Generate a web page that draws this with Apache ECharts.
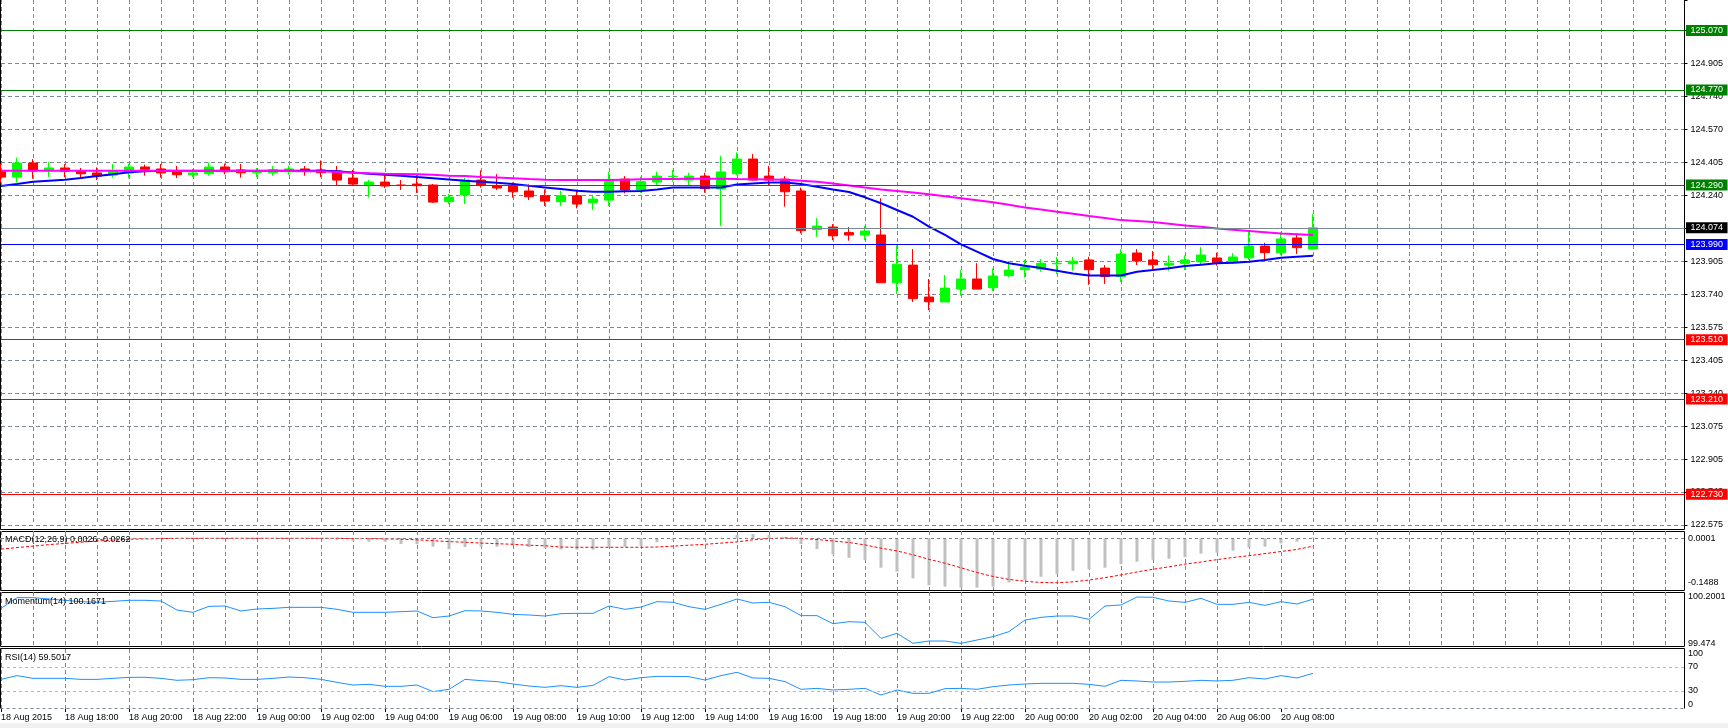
<!DOCTYPE html>
<html><head><meta charset="utf-8">
<script src="https://cdn.jsdelivr.net/npm/echarts@6/dist/echarts.min.js"></script>
<style>html,body{margin:0;padding:0;background:#fff;}#c{width:1728px;height:728px;}</style>
</head><body><div id="c"></div>
<script>
// ---- data (30-minute candles, 18 Aug 2015 16:00 .. 20 Aug 2015 09:00) ----
const opens = [124.357,124.330,124.401,124.361,124.376,124.359,124.351,124.340,124.351,124.381,
124.371,124.361,124.342,124.347,124.381,124.366,124.352,124.352,124.357,124.371,
124.366,124.361,124.325,124.290,124.305,124.290,124.295,124.290,124.206,124.240,
124.315,124.288,124.288,124.260,124.236,124.206,124.236,124.201,124.214,124.320,
124.265,124.305,124.332,124.315,124.335,124.270,124.347,124.421,124.335,124.320,
124.260,124.065,124.078,124.050,124.038,124.038,123.797,123.886,123.725,123.700,
123.765,123.816,123.772,123.833,123.863,123.866,123.893,123.893,123.912,123.871,
123.828,123.947,123.912,123.886,123.895,123.903,123.922,123.898,123.923,123.982,
123.949,124.023,123.967];
const closes = [124.330,124.401,124.361,124.376,124.359,124.347,124.335,124.359,124.381,124.369,
124.351,124.342,124.351,124.381,124.357,124.352,124.355,124.367,124.371,124.361,
124.352,124.315,124.295,124.305,124.285,124.288,124.287,124.204,124.229,124.315,
124.288,124.275,124.256,124.231,124.209,124.236,124.194,124.219,124.315,124.265,
124.307,124.335,124.334,124.335,124.272,124.356,124.421,124.315,124.315,124.256,
124.060,124.083,124.034,124.038,124.058,123.797,123.891,123.717,123.701,123.770,
123.816,123.765,123.831,123.861,123.876,123.895,123.895,123.906,123.863,123.828,
123.942,123.907,123.888,123.896,123.912,123.937,123.897,123.927,123.982,123.949,
124.018,123.974,124.074];
const lows = [124.302,124.302,124.322,124.330,124.329,124.324,124.315,124.327,124.324,124.337,
124.327,124.325,124.330,124.337,124.344,124.327,124.330,124.337,124.342,124.337,
124.330,124.290,124.290,124.226,124.275,124.265,124.250,124.200,124.194,124.194,
124.277,124.265,124.226,124.214,124.184,124.184,124.172,124.164,124.184,124.248,
124.251,124.288,124.307,124.288,124.251,124.083,124.340,124.312,124.290,124.181,
124.046,124.029,124.012,124.009,124.012,123.797,123.740,123.700,123.659,123.700,
123.732,123.765,123.755,123.826,123.823,123.853,123.841,123.858,123.787,123.791,
123.801,123.886,123.861,123.858,123.861,123.886,123.883,123.893,123.912,123.912,
123.937,123.942,123.967];
const highs = [124.398,124.428,124.421,124.406,124.396,124.376,124.379,124.396,124.396,124.393,
124.396,124.386,124.371,124.404,124.398,124.396,124.376,124.386,124.388,124.386,
124.414,124.386,124.366,124.315,124.344,124.315,124.342,124.295,124.245,124.327,
124.364,124.345,124.303,124.293,124.268,124.261,124.263,124.236,124.356,124.335,
124.332,124.357,124.366,124.352,124.352,124.436,124.455,124.446,124.386,124.335,
124.277,124.123,124.093,124.078,124.083,124.223,123.986,123.967,123.816,123.836,
123.861,123.896,123.869,123.907,123.912,123.917,123.928,123.928,123.928,123.886,
123.967,123.967,123.957,123.935,123.935,123.977,123.949,123.947,124.058,123.999,
124.051,124.046,124.144];
const maFast = [124.285,124.295,124.307,124.312,124.317,124.325,124.335,124.344,124.354,124.359,
124.362,124.362,124.362,124.362,124.362,124.362,124.362,124.362,124.362,124.362,
124.362,124.359,124.353,124.347,124.342,124.337,124.330,124.324,124.318,124.312,
124.307,124.301,124.295,124.286,124.278,124.270,124.261,124.256,124.256,124.258,
124.260,124.268,124.277,124.278,124.278,124.278,124.293,124.298,124.303,124.303,
124.295,124.281,124.267,124.255,124.228,124.198,124.164,124.130,124.080,124.038,
123.991,123.954,123.917,123.895,123.883,123.871,123.858,123.844,123.834,123.833,
123.834,123.853,123.861,123.870,123.881,123.888,123.895,123.898,123.903,123.912,
123.923,123.928,123.933];
const maSlow = [124.362,124.362,124.362,124.362,124.362,124.362,124.362,124.362,124.362,124.362,
124.362,124.361,124.361,124.361,124.361,124.361,124.361,124.361,124.361,124.360,
124.359,124.356,124.352,124.350,124.347,124.346,124.344,124.342,124.337,124.335,
124.331,124.328,124.324,124.320,124.317,124.315,124.315,124.315,124.315,124.317,
124.319,124.320,124.321,124.322,124.322,124.322,124.320,124.319,124.318,124.317,
124.312,124.306,124.298,124.288,124.277,124.268,124.260,124.252,124.243,124.233,
124.223,124.213,124.203,124.190,124.177,124.166,124.155,124.145,124.134,124.124,
124.113,124.108,124.103,124.095,124.086,124.079,124.071,124.064,124.058,124.052,
124.046,124.042,124.038];
const macdMain = [-0.004,-0.002,0.000,0.001,0.001,0.001,0.000,0.001,0.002,0.002,
0.002,0.001,0.000,0.001,0.001,0.000,0.000,0.000,0.001,0.001,
0.000,-0.004,-0.008,-0.011,-0.011,-0.019,-0.020,-0.028,-0.036,-0.029,
-0.028,-0.028,-0.024,-0.029,-0.033,-0.037,-0.038,-0.038,-0.028,-0.028,
-0.026,-0.013,-0.007,-0.004,-0.006,0.002,0.011,0.014,0.011,0.004,
-0.019,-0.036,-0.053,-0.065,-0.072,-0.098,-0.111,-0.133,-0.156,-0.161,
-0.164,-0.164,-0.161,-0.147,-0.139,-0.128,-0.119,-0.108,-0.102,-0.098,
-0.086,-0.078,-0.071,-0.068,-0.062,-0.051,-0.048,-0.041,-0.031,-0.028,
-0.017,-0.011,0.0026];
const macdSignal = [-0.036,-0.031,-0.026,-0.021,-0.017,-0.013,-0.009,-0.006,-0.003,-0.002,
-0.001,0.000,0.000,0.000,0.000,0.000,0.000,0.000,0.000,0.000,
0.000,0.000,-0.001,-0.001,-0.002,-0.003,-0.005,-0.008,-0.011,-0.013,
-0.016,-0.018,-0.020,-0.023,-0.025,-0.029,-0.030,-0.030,-0.030,-0.030,
-0.030,-0.029,-0.026,-0.023,-0.020,-0.016,-0.012,-0.005,-0.001,0.001,
0.000,-0.004,-0.009,-0.014,-0.022,-0.033,-0.042,-0.055,-0.070,-0.083,
-0.098,-0.114,-0.127,-0.137,-0.143,-0.147,-0.148,-0.145,-0.139,-0.131,
-0.122,-0.112,-0.103,-0.095,-0.086,-0.079,-0.071,-0.064,-0.058,-0.051,
-0.044,-0.037,-0.0262];
const momentum = [100.023,100.190,100.190,100.169,100.148,100.127,100.117,100.132,100.148,100.148,
100.137,99.996,99.960,100.054,100.059,99.981,100.012,100.022,100.038,100.038,
100.038,100.007,99.960,99.960,99.960,99.970,99.981,99.876,99.902,99.986,
99.981,99.960,99.928,99.918,99.902,99.939,99.944,99.944,100.059,100.007,
100.043,100.127,100.117,100.048,100.007,100.085,100.169,100.106,100.117,100.048,
99.908,99.908,99.782,99.813,99.803,99.552,99.631,99.474,99.510,99.510,
99.474,99.526,99.578,99.657,99.839,99.881,99.902,99.902,99.850,100.059,
100.075,100.2001,100.195,100.137,100.116,100.179,100.085,100.085,100.116,100.069,
100.127,100.090,100.1671];
const rsi = [49.4,55.6,51.1,51.1,51.1,49.4,49.4,51.1,52.8,52.8,
51.1,47.8,48.9,52.2,51.7,49.4,49.4,51.1,53.3,52.2,
49.4,44.4,40.0,41.1,37.8,37.8,40.0,28.9,32.8,49.4,
47.2,45.6,41.7,38.3,36.1,38.9,36.1,39.4,53.9,48.3,
52.2,54.4,54.4,53.9,48.3,55.6,61.1,51.7,51.1,45.6,
32.8,34.4,31.7,32.8,34.4,23.3,31.7,26.1,26.1,33.9,
34.4,32.8,37.2,40.0,41.7,42.8,42.8,42.8,41.1,37.8,
47.8,46.7,45.0,45.0,46.1,47.8,46.7,47.8,52.2,50.0,
55.6,51.7,59.5017];

const resistLevels = [125.070, 124.770, 124.290];
const pivotLevels = [123.990];
const supportLevels = [123.510, 123.210, 122.730];
const bidPrice = 124.074;

const priceTickLabels = ['122.575','122.740','122.905','123.075','123.240','123.405','123.575','123.740',
  '123.905','124.075','124.240','124.405','124.570','124.740','124.905','125.070'];
const timeLabels = ['18 Aug 2015','18 Aug 18:00','18 Aug 20:00','18 Aug 22:00','19 Aug 00:00','19 Aug 02:00',
  '19 Aug 04:00','19 Aug 06:00','19 Aug 08:00','19 Aug 10:00','19 Aug 12:00','19 Aug 14:00','19 Aug 16:00',
  '19 Aug 18:00','19 Aug 20:00','19 Aug 22:00','20 Aug 00:00','20 Aug 02:00','20 Aug 04:00','20 Aug 06:00','20 Aug 08:00'];
const macdAxisLabels = [0.0001, -0.1488];
const momAxisLabels = [100.2001, 99.474];
const rsiAxisLabels = [0, 30, 70, 100];
const rsiLevels = [70, 30];

// ---- axis ranges ----
const priceMin = 122.575, priceMax = 125.2234, priceStep = 0.16643;
const xMax = 105.22;
const FONT = 'Liberation Sans';
const GRID_DASH = '#7b8794';

const idx = a => a.map((v, i) => [i, v]);
const candles = opens.map((o, i) => [i, o, closes[i], lows[i], highs[i]]);
const last = a => a[a.length - 1];

function levelItem(v, color) {
  return { yAxis: v, lineStyle: { color: color, width: 1, type: 'solid' },
    label: { backgroundColor: color } };
}
const levelData = []
  .concat(resistLevels.map(v => levelItem(v, '#008000')))
  .concat(pivotLevels.map(v => levelItem(v, '#0000ff')))
  .concat(supportLevels.map(v => levelItem(v, '#ff0000')))
  .concat([{ yAxis: bidPrice, lineStyle: { color: '#778899', width: 1, type: 'solid' }, label: { backgroundColor: '#000' } }]);

function xAxisCfg(gi, showLabels) {
  return {
    type: 'value', gridIndex: gi, min: 0, max: xMax, interval: 2,
    axisLine: { show: false },
    axisTick: showLabels ? { show: true, length: 3, lineStyle: { color: '#000' },
      customValues: timeLabels.map((t, k) => 4 * k) } : { show: false },
    axisLabel: showLabels ? {
      show: true, align: 'left', margin: 4, color: '#000', fontSize: 9, fontFamily: FONT,
      formatter: v => (v % 4 === 0 && v / 4 < timeLabels.length) ? timeLabels[v / 4] : ''
    } : { show: false },
    splitLine: { show: true, showMaxLine: false, lineStyle: { color: GRID_DASH, type: [4, 3], width: 1 } }
  };
}
function subYAxis(gi, mn, mx, labels, extra) {
  return Object.assign({
    type: 'value', gridIndex: gi, position: 'right', min: mn, max: mx,
    axisLine: { show: false }, axisTick: { show: false },
    splitLine: { show: false },
    axisLabel: { show: true, customValues: labels, margin: 3.5, color: '#000', fontSize: 9, fontFamily: FONT,
      formatter: v => String(v) }
  }, extra || {});
}

const gridBase = { left: 1, right: 43.5, outerBoundsMode: 'none', containLabel: false };
const chart = echarts.init(document.getElementById('c'), null, { renderer: 'canvas' });
chart.setOption({
  animation: false,
  backgroundColor: '#ffffff',
  title: [
    { text: 'MACD(12,26,9) ' + last(macdMain).toFixed(4) + ' ' + last(macdSignal).toFixed(4), left: 5, top: 535.5, padding: 0,
      textStyle: { fontSize: 9, fontWeight: 'normal', color: '#000', fontFamily: FONT } },
    { text: 'Momentum(14) ' + last(momentum).toFixed(4), left: 5, top: 597, padding: 0,
      textStyle: { fontSize: 9, fontWeight: 'normal', color: '#000', fontFamily: FONT } },
    { text: 'RSI(14) ' + last(rsi).toFixed(4), left: 5, top: 653, padding: 0,
      textStyle: { fontSize: 9, fontWeight: 'normal', color: '#000', fontFamily: FONT } }
  ],
  grid: [
    Object.assign({ top: 0, height: 525 }, gridBase),
    Object.assign({ top: 531, height: 59 }, gridBase),
    Object.assign({ top: 592, height: 54 }, gridBase),
    Object.assign({ top: 649, height: 60 }, gridBase)
  ],
  xAxis: [xAxisCfg(0, false), xAxisCfg(1, false), xAxisCfg(2, false), xAxisCfg(3, true)],
  yAxis: [
    { type: 'value', gridIndex: 0, min: priceMin, max: priceMax, show: false, splitLine: { show: false } },
    { type: 'value', gridIndex: 0, position: 'right', min: 0, max: (priceMax - priceMin) / priceStep, interval: 1,
      axisLine: { show: true, lineStyle: { color: '#000', width: 1 } },
      axisTick: { show: true, length: 3, lineStyle: { color: '#000' } },
      axisLabel: { margin: 6, color: '#000', fontSize: 9, fontFamily: FONT,
        formatter: v => (Number.isInteger(v) && priceTickLabels[v]) ? priceTickLabels[v] : '' },
      splitLine: { show: true, showMaxLine: false, lineStyle: { color: GRID_DASH, type: [4, 3], width: 1 } } },
    subYAxis(1, -0.1721, 0.0243, macdAxisLabels),
    subYAxis(2, 99.432, 100.2785, momAxisLabels),
    subYAxis(3, 0, 100, rsiAxisLabels, {
      axisLabel: { show: true, customValues: rsiAxisLabels, margin: 3.5, color: '#000', fontSize: 9, fontFamily: FONT,
        verticalAlignMinLabel: 'bottom', verticalAlignMaxLabel: 'top', formatter: v => String(v) } })
  ],
  series: [
    { type: 'candlestick', name: 'USDJPY', xAxisIndex: 0, yAxisIndex: 0, data: candles, barWidth: 10,
      itemStyle: { color: '#00ff00', color0: '#ff0000', borderColor: '#00ff00', borderColor0: '#ff0000', borderWidth: 1 },
      markLine: { silent: true, symbol: ['none', 'none'], precision: 3,
        label: { show: true, position: 'end', distance: 1.5, color: '#fff', fontSize: 9, fontFamily: FONT,
          padding: [1, 4.5, 1, 4.5], formatter: p => p.value.toFixed(3) },
        data: levelData } },
    { type: 'line', name: 'MA fast', xAxisIndex: 0, yAxisIndex: 0, data: idx(maFast), symbol: 'none',
      lineStyle: { color: '#0000ff', width: 2 }, z: 3 },
    { type: 'line', name: 'MA slow', xAxisIndex: 0, yAxisIndex: 0, data: idx(maSlow), symbol: 'none',
      lineStyle: { color: '#ff00ff', width: 2 }, z: 3 },
    { type: 'bar', name: 'MACD', xAxisIndex: 1, yAxisIndex: 2, data: idx(macdMain), barWidth: 3,
      itemStyle: { color: '#c0c0c0' },
      markLine: { silent: true, symbol: ['none', 'none'], label: { show: false },
        lineStyle: { color: '#808080', type: [3, 3], width: 1 }, data: [{ yAxis: 0 }] } },
    { type: 'line', name: 'Signal', xAxisIndex: 1, yAxisIndex: 2, data: idx(macdSignal), symbol: 'none',
      lineStyle: { color: '#ff0000', width: 1, type: [3, 2] }, z: 3 },
    { type: 'line', name: 'Momentum', xAxisIndex: 2, yAxisIndex: 3, data: idx(momentum), symbol: 'none',
      lineStyle: { color: '#1e90ff', width: 1 } },
    { type: 'line', name: 'RSI', xAxisIndex: 3, yAxisIndex: 4, data: idx(rsi), symbol: 'none',
      lineStyle: { color: '#1e90ff', width: 1 },
      markLine: { silent: true, symbol: ['none', 'none'], label: { show: false },
        lineStyle: { color: '#b8b8b8', type: [3, 3], width: 1 }, data: rsiLevels.map(v => ({ yAxis: v })) } }
  ],
  graphic: [
    { type: 'rect', silent: true, shape: { x: 0.5, y: -5, width: 1684, height: 534.5 },
      style: { fill: 'transparent', stroke: '#000', lineWidth: 1 } },
    { type: 'rect', silent: true, shape: { x: 0.5, y: 531.5, width: 1684, height: 59 },
      style: { fill: 'transparent', stroke: '#000', lineWidth: 1 } },
    { type: 'rect', silent: true, shape: { x: 0.5, y: 592.5, width: 1684, height: 54 },
      style: { fill: 'transparent', stroke: '#000', lineWidth: 1 } },
    { type: 'polyline', silent: true, shape: { points: [[0.5, 708.5], [0.5, 648.5], [1684.5, 648.5], [1684.5, 708.5]] },
      style: { fill: 'transparent', stroke: '#000', lineWidth: 1 } },
    { type: 'line', silent: true, shape: { x1: 0.5, y1: 708.5, x2: 1684.5, y2: 708.5 },
      style: { stroke: GRID_DASH, lineWidth: 1, lineDash: [3, 3] } },
    { type: 'rect', silent: true, shape: { x: 0, y: 723, width: 1728, height: 5 },
      style: { fill: '#f0f0f0' } }
  ]
});
</script>
</body></html>
